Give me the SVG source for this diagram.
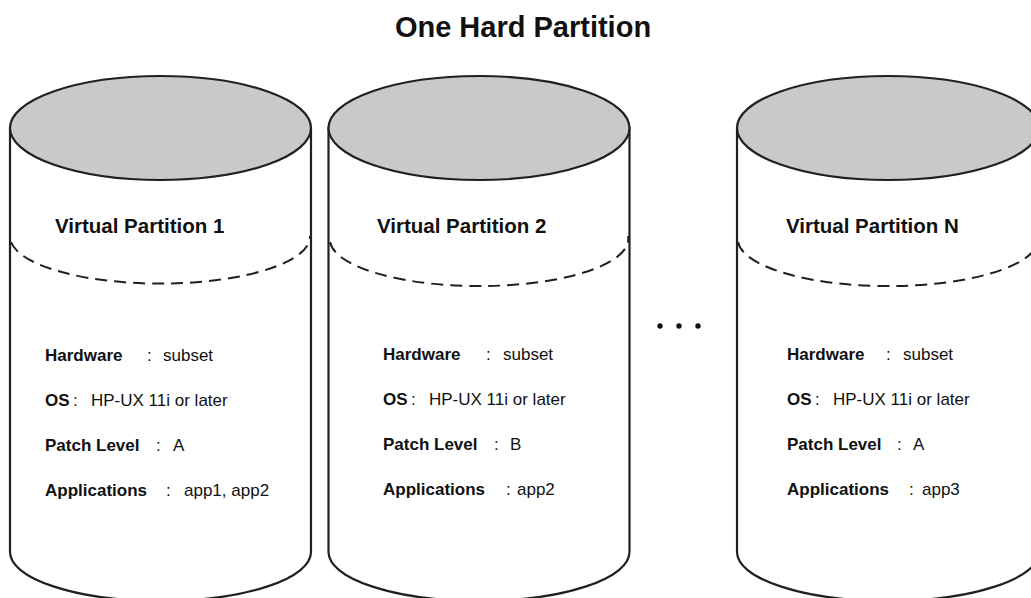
<svg xmlns="http://www.w3.org/2000/svg" width="1031" height="598" viewBox="0 0 1031 598">
<style>
.body{fill:#fff;stroke:#231f20;stroke-width:2.2}
.top{fill:#c8c9cb;stroke:#231f20;stroke-width:2.2}
.dash{fill:none;stroke:#231f20;stroke-width:2;stroke-dasharray:12 7}
text{font-family:"Liberation Sans",Arial,sans-serif;fill:#111}
.title{font-size:29px;font-weight:bold}
.vp{font-size:20.5px;font-weight:bold}
.lb{font-size:17px;font-weight:bold}
.v{font-size:17px}
</style>
<rect width="1031" height="598" fill="#fff"/>
<text class="title" x="523" y="37" text-anchor="middle">One Hard Partition</text>

<g id="vp1">
<path class="body" d="M10 128 L10 552 A150.5 49 0 0 0 311 552 L311 128 Z"/>
<ellipse class="top" cx="160.5" cy="128" rx="150.5" ry="52"/>
<path class="dash" d="M11 242 A150 47 0 0 0 310 236"/>
<text class="vp" x="55" y="233">Virtual Partition 1</text>
<text class="lb" x="45" y="361">Hardware</text><text class="v" x="147" y="361">:</text><text class="v" x="163" y="361">subset</text>
<text class="lb" x="45" y="406">OS</text><text class="v" x="73" y="406">:</text><text class="v" x="91" y="406">HP-UX 11i or later</text>
<text class="lb" x="45" y="451">Patch Level</text><text class="v" x="156" y="451">:</text><text class="v" x="173" y="451">A</text>
<text class="lb" x="45" y="496">Applications</text><text class="v" x="166" y="496">:</text><text class="v" x="184" y="496">app1, app2</text>
</g>

<g id="vp2">
<path class="body" d="M328.5 128 L328.5 552 A150.5 49 0 0 0 629.5 552 L629.5 128 Z"/>
<ellipse class="top" cx="479" cy="128" rx="150.5" ry="52"/>
<path class="dash" d="M330 242 A149 47 0 0 0 628 236"/>
<text class="vp" x="377" y="233">Virtual Partition 2</text>
<text class="lb" x="383" y="360">Hardware</text><text class="v" x="486" y="360">:</text><text class="v" x="503" y="360">subset</text>
<text class="lb" x="383" y="405">OS</text><text class="v" x="411" y="405">:</text><text class="v" x="429" y="405">HP-UX 11i or later</text>
<text class="lb" x="383" y="450">Patch Level</text><text class="v" x="494" y="450">:</text><text class="v" x="510" y="450">B</text>
<text class="lb" x="383" y="495">Applications</text><text class="v" x="506" y="495">:</text><text class="v" x="517" y="495">app2</text>
</g>

<g id="dots" fill="#111">
<circle cx="660" cy="326" r="2.7"/><circle cx="679" cy="326" r="2.7"/><circle cx="698" cy="326" r="2.7"/>
</g>

<g id="vpN">
<path class="body" d="M737 128 L737 552 A151 49 0 0 0 1039 552 L1039 128 Z"/>
<ellipse class="top" cx="888" cy="128" rx="151" ry="52"/>
<path class="dash" d="M738 242 A150 47 0 0 0 1038 236"/>
<text class="vp" x="786" y="233">Virtual Partition N</text>
<text class="lb" x="787" y="360">Hardware</text><text class="v" x="886" y="360">:</text><text class="v" x="903" y="360">subset</text>
<text class="lb" x="787" y="405">OS</text><text class="v" x="815" y="405">:</text><text class="v" x="833" y="405">HP-UX 11i or later</text>
<text class="lb" x="787" y="450">Patch Level</text><text class="v" x="897" y="450">:</text><text class="v" x="913" y="450">A</text>
<text class="lb" x="787" y="495">Applications</text><text class="v" x="909" y="495">:</text><text class="v" x="922" y="495">app3</text>
</g>
</svg>
